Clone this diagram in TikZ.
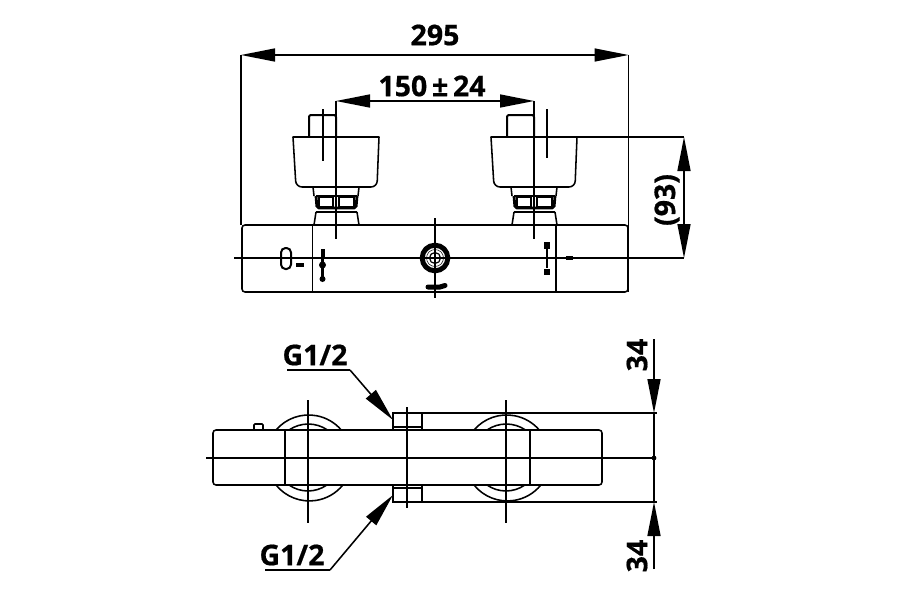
\documentclass[tikz,border=0pt]{standalone}
\usepackage{fontspec}
\setmainfont{Open Sans}[BoldFeatures={FakeBold=0.6}]
\usepackage{tikz}
\usetikzlibrary{arrows.meta}

\begin{document}
\begin{tikzpicture}[x=1pt,y=-1pt,line width=1.55pt,
                    >={Stealth[length=34pt,width=13pt,inset=0pt]}]
  \tikzstyle{heavy}=[line width=2.8pt]
  \tikzstyle{dim}=[<->]
  \tikzstyle{lead}=[->]
  \tikzstyle{label}=[inner sep=0pt,font=\bfseries\fontsize{28.5}{28.5}\selectfont]

  \useasboundingbox (0,0) rectangle (900,600);

  % front view
  \draw[rounded corners=3pt] (242,225) rectangle (628,292);
  \draw (312.5,225) -- (312.5,292);
  \draw[line width=2pt] (556,225) -- (556,292);

  % the two taps
  \foreach \tapx in {0,198} {
    \begin{scope}[xshift=\tapx]
      \draw[line width=2pt,rounded corners=2pt] (309,137) -- (309,115) -- (336,115) -- (336,137);
      \draw[rounded corners=6pt] (293,137) -- (296,187) -- (377,187) -- (379,137);
      \draw[line cap=round] (293,137) -- (379,137);
      \draw (313,187) -- (314,196) (359,187) -- (358,196);
      \draw[heavy,rounded corners=2pt] (316,196) -- (317,208) -- (356,208) -- (357,196);
      \draw[heavy] (316,196) -- (357,196);
      \draw (319,197) rectangle (333,207) (339,197) rectangle (354,207);
      \draw[line width=2.2pt] (336,196) -- (336,208);
      \draw (316,212) -- (357,212);
      \draw (316,212) -- (314,225) (357,212) -- (359,225);
    \end{scope}
  }

  % centre lines of the front view
  \coordinate (frontL) at (234,258);
  \coordinate (frontR) at (684,258);
  \draw (frontL) -- (frontR);
  \draw (323,109) -- (323,161);
  \draw (547,109) -- (547,158);
  \draw (435,218) -- (435,298);

  % knob in the middle
  \draw[line width=5pt] (435,258) circle (12.8);
  \draw[line width=.5pt] (435,258) circle (8.5);
  \draw[line width=1.2pt] (435,258) circle (5.5);
  \draw[line width=5pt,line cap=round] (428,287) -- (440,287) -- (445,285.5);

  % scale marks
  \draw[line width=2pt,rounded corners=4.5pt] (281,248) rectangle (291,269);
  \draw[line width=3.5pt] (296,265) -- (304,265);
  \draw[line width=4pt] (322.5,249) -- (322.5,258);
  \draw[line width=2.2pt] (322.5,258) -- (322.5,280);
  \fill (322.5,265) circle (3.5);
  \fill (322.5,279) circle (3);
  \draw[line width=5.5pt] (547,242) -- (547,249);
  \draw[line width=2.4pt] (547,249) -- (547,268);
  \draw[line width=5.5pt] (547,269) -- (547,275);
  \draw[line width=3.5pt] (566,258) -- (573,258);

  % dimensions of the front view
  \coordinate (wideL) at (241,55);
  \coordinate (wideR) at (628.5,55);
  \coordinate (tapL) at (336,101);
  \coordinate (tapR) at (534,101);
  \coordinate (capR) at (684,137);
  \draw (wideL) -- (241,225);
  \draw (wideR) -- (628.5,292);
  \draw (tapL) -- (336,239);
  \draw (tapR) -- (534,239);
  \draw (576,137) -- (capR);
  \path (wideL) edge[dim] (wideR)
        (tapL) edge[dim] (tapR)
        (capR) edge[dim] (frontR);
  \node[label] (wide) at (435,35) {295};
  \node[label] (dist) at (432,86) {150\,±\,24};
  \node[label,rotate=90] (high) at (667,200) {(93)};

  % lower view
  \draw (276,430) arc[start angle=-139.4,end angle=-40.6,radius=43];
  \draw (289,430) arc[start angle=-124.5,end angle=-55.5,radius=34];
  \draw (276,485) arc[start angle=141,end angle=39,radius=43];
  \draw (289,485) arc[start angle=125,end angle=55,radius=33];
  \draw (474,430) arc[start angle=-139.4,end angle=-40.6,radius=43];
  \draw (487,430) arc[start angle=-124.5,end angle=-55.5,radius=34];
  \draw (474,485) arc[start angle=141,end angle=39,radius=43];
  \draw (487,485) arc[start angle=125,end angle=55,radius=33];
  \draw[rounded corners=3pt] (213,430) rectangle (602,485);
  \draw[line width=2pt] (285,430) -- (285,485);
  \draw[heavy] (530,430) -- (530,485);
  \draw[rounded corners=1pt] (254,430) -- (254,424) -- (263,424) -- (263,430);

  % connections of the lower view
  \draw[line width=2pt] (393,430) -- (393,413) -- (422,413) -- (422,430);
  \draw (393,427) -- (422,427);
  \draw[line width=2pt] (393,485) -- (393,502) -- (422,502) -- (422,485);
  \draw (393,488) -- (422,488);

  % centre lines of the lower view
  \coordinate (lowC) at (654,458);
  \draw (206,458) -- (lowC);
  \fill (lowC) circle (2.4);
  \draw (308,400) -- (308,523);
  \draw (506,400) -- (506,523);
  \draw (407,407) -- (407,508);

  % dimensions of the lower view
  \coordinate (upEnd) at (654,339);
  \coordinate (upTip) at (654,413);
  \coordinate (dnTip) at (654,502);
  \coordinate (dnEnd) at (654,569);
  \draw (422,413) -- (657,413);
  \draw (422,502) -- (657,502);
  \draw (upTip) -- (dnTip);
  \path (upEnd) edge[lead] (upTip)
        (dnEnd) edge[lead] (dnTip);
  \node[label,rotate=90] (upper) at (637,355) {34};
  \node[label,rotate=90] (lower) at (637,556) {34};

  % thread leaders
  \coordinate (topS) at (287,370);
  \coordinate (topB) at (350,370);
  \coordinate (topT) at (393,420);
  \coordinate (botS) at (265,570);
  \coordinate (botB) at (330,570);
  \coordinate (botT) at (393,495);
  \draw (topS) -- (topB);
  \draw (botS) -- (botB);
  \path (topB) edge[lead] (topT)
        (botB) edge[lead] (botT);
  \node[label] (topG) at (315,355) {G1/2};
  \node[label] (botG) at (292,555) {G1/2};
\end{tikzpicture}
\end{document}
